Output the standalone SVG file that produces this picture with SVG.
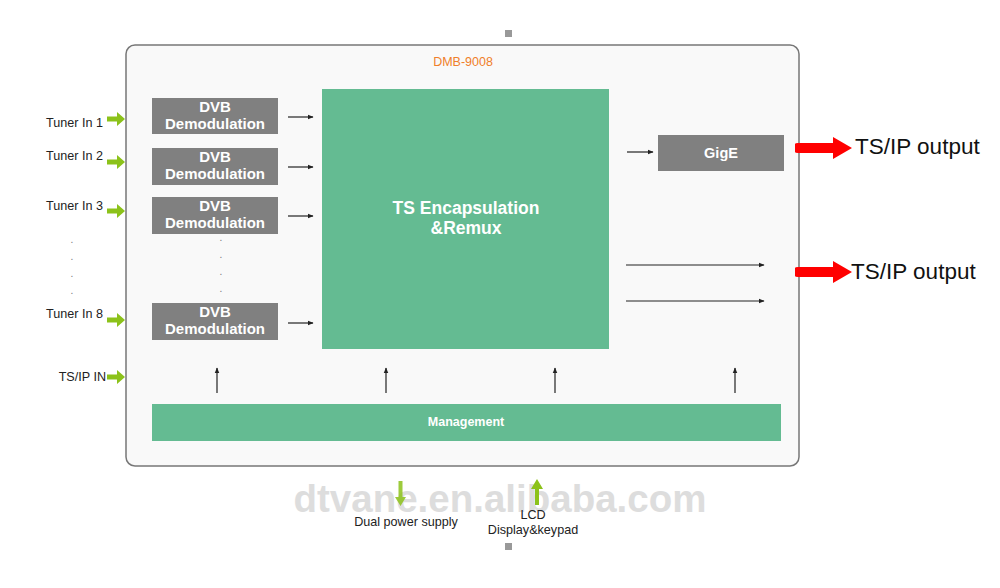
<svg xmlns="http://www.w3.org/2000/svg" width="1000" height="588" viewBox="0 0 1000 588">
<style>
.lbl{font-family:"Liberation Sans",Arial,sans-serif;font-size:12.6px;fill:#222}
.dvb{fill:#808080}
.wt{font-family:"Liberation Sans",Arial,sans-serif;font-weight:bold;fill:#fff;text-anchor:middle}
.thin{stroke:#222;stroke-width:1.2;fill:none}
.ga{fill:#8cc21a}
.ra{fill:#f00}
.dot{font-family:"Liberation Sans",Arial,sans-serif;font-size:10px;fill:#777;text-anchor:middle}
.out{font-family:"Liberation Sans",Arial,sans-serif;font-size:22.5px;fill:#111}
</style>
<defs>
<marker id="ah" viewBox="0 0 10 10" refX="9" refY="5" markerWidth="5" markerHeight="5" orient="auto"><path d="M0,1 L10,5 L0,9 Z" fill="#222"/></marker>
<g id="garrow"><path d="M0,-2.5 H10 V-7 L18,0 L10,7 V2.5 H0 Z"/></g>
<g id="rarrow"><path d="M0,-4 Q0,-5 3,-5 H38 V-11 L57,0 L38,11 V5 H3 Q0,5 0,4 Z"/></g>
</defs>
<rect width="1000" height="588" fill="#fff"/>
<rect x="505" y="30" width="7" height="7" fill="#999"/>
<rect x="505" y="543" width="7" height="7" fill="#999"/>
<g id="device">
<rect x="126" y="45" width="673" height="421" rx="9" fill="#f9f9f9" stroke="#777" stroke-width="1.5"/>
<text x="463" y="66" font-family="Liberation Sans,Arial,sans-serif" font-size="12.5" fill="#f07f2a" text-anchor="middle">DMB-9008</text>
</g>
<g id="demod1"><rect class="dvb" x="152" y="98" width="126" height="36"/><text class="wt" x="215" y="112" font-size="15">DVB</text><text class="wt" x="215" y="129" font-size="15">Demodulation</text></g>
<g id="demod2"><rect class="dvb" x="152" y="148" width="126" height="37"/><text class="wt" x="215" y="162" font-size="15">DVB</text><text class="wt" x="215" y="179" font-size="15">Demodulation</text></g>
<g id="demod3"><rect class="dvb" x="152" y="197" width="126" height="37"/><text class="wt" x="215" y="211" font-size="15">DVB</text><text class="wt" x="215" y="228" font-size="15">Demodulation</text></g>
<g id="demod8"><rect class="dvb" x="152" y="303" width="126" height="37"/><text class="wt" x="215" y="317" font-size="15">DVB</text><text class="wt" x="215" y="334" font-size="15">Demodulation</text></g>
<g id="encap"><rect x="322" y="89" width="287" height="260" fill="#64bb92"/><text class="wt" x="466" y="214" font-size="17.5">TS Encapsulation</text><text class="wt" x="466" y="234" font-size="17.5">&amp;Remux</text></g>
<g id="gige"><rect class="dvb" x="658" y="135" width="126" height="36"/><text class="wt" x="721" y="158" font-size="14.5">GigE</text></g>
<g id="management"><rect x="152" y="404" width="629" height="37" fill="#64bb92"/><text class="wt" x="466" y="426" font-size="12.5">Management</text></g>
<g id="labels">
<text class="lbl" x="103" y="127" text-anchor="end">Tuner In 1</text>
<text class="lbl" x="103" y="160" text-anchor="end">Tuner In 2</text>
<text class="lbl" x="103" y="210" text-anchor="end">Tuner In 3</text>
<text class="lbl" x="103" y="318" text-anchor="end">Tuner In 8</text>
<text class="lbl" x="106" y="381" text-anchor="end">TS/IP IN</text>
<text class="dot" x="72" y="243">.</text><text class="dot" x="72" y="260">.</text><text class="dot" x="72" y="277">.</text><text class="dot" x="72" y="294">.</text>
<text class="dot" x="221" y="241">.</text><text class="dot" x="221" y="258">.</text><text class="dot" x="221" y="275">.</text><text class="dot" x="221" y="292">.</text>
<text class="out" x="855" y="154">TS/IP output</text>
<text class="out" x="851" y="279">TS/IP output</text>
<text x="500" y="512" font-family="Liberation Sans,Arial,sans-serif" font-size="38.5" font-weight="bold" fill="#ddd" text-anchor="middle">dtvane.en.alibaba.com</text>
<text class="lbl" x="406" y="526" text-anchor="middle">Dual power supply</text>
<text class="lbl" x="533" y="519" text-anchor="middle">LCD</text>
<text class="lbl" x="533" y="534" text-anchor="middle">Display&amp;keypad</text>
</g>
<g id="connectors">
<line class="thin" x1="288" y1="117" x2="313" y2="117" marker-end="url(#ah)"/>
<line class="thin" x1="288" y1="167" x2="313" y2="167" marker-end="url(#ah)"/>
<line class="thin" x1="288" y1="216" x2="313" y2="216" marker-end="url(#ah)"/>
<line class="thin" x1="288" y1="323" x2="313" y2="323" marker-end="url(#ah)"/>
<line class="thin" x1="627" y1="152" x2="653" y2="152" marker-end="url(#ah)"/>
<line class="thin" x1="626" y1="265" x2="764" y2="265" marker-end="url(#ah)"/>
<line class="thin" x1="626" y1="301" x2="764" y2="301" marker-end="url(#ah)"/>
<line class="thin" x1="217" y1="393" x2="217" y2="368" marker-end="url(#ah)"/>
<line class="thin" x1="386" y1="393" x2="386" y2="368" marker-end="url(#ah)"/>
<line class="thin" x1="555" y1="393" x2="555" y2="368" marker-end="url(#ah)"/>
<line class="thin" x1="735" y1="393" x2="735" y2="368" marker-end="url(#ah)"/>
<use href="#garrow" class="ga" x="107" y="119"/>
<use href="#garrow" class="ga" x="107" y="162"/>
<use href="#garrow" class="ga" x="107" y="211"/>
<use href="#garrow" class="ga" x="107" y="320"/>
<use href="#garrow" class="ga" x="107" y="377"/>
<use href="#rarrow" class="ra" x="795" y="148"/>
<use href="#rarrow" class="ra" x="795" y="272"/>
<path class="ga" d="M398.5,481 H402.5 V497 H406 L400.5,506 L395,497 H398.5 Z" opacity="0.85"/>
<path class="ga" d="M535,505 H539 V489 H543 L537,479 L531,489 H535 Z"/>
</g>
</svg>
